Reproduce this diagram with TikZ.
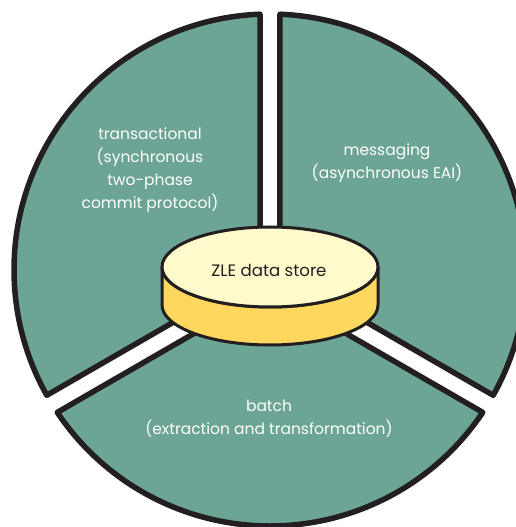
\documentclass[tikz,border=0pt]{standalone}
\usepackage{fontspec}
\setmainfont{Poppins}
\definecolor{teal}{HTML}{6CA496}
\definecolor{topy}{HTML}{FEFACC}
\definecolor{sidey}{HTML}{FED85E}
\definecolor{ink}{HTML}{231F20}
\begin{document}
\begin{tikzpicture}[x=1pt,y=1pt,
  sector/.style={fill=teal,draw=ink,line width=5.5pt,line join=round},
  cyl/.style={draw=ink,line width=3pt,line join=round},
  label/.style={text=white,align=center,font=\fontsize{15.5}{23}\selectfont},
  dark/.style={text=ink,align=center,font=\fontsize{16.6}{20}\selectfont}]
\useasboundingbox (0,0) rectangle (516,527);
\begin{scope}
\clip (0,0) rectangle (516,527);
% left sector
\draw[sector] (260,254.77) -- (260,512.8) arc[start angle=92.24,end angle=209.3,radius=256] -- cycle;
% right sector
\draw[sector] (280,254.77) -- (493.2,131.7) arc[start angle=-29.3,end angle=87.76,radius=256] -- cycle;
% bottom sector
\draw[sector] (270,237.45) -- (57.25,114.62) arc[start angle=213.79,end angle=326.21,radius=256] -- cycle;
\end{scope}
% cylinder
\draw[cyl,fill=sidey] (162,260) -- (162,222) arc[start angle=180,end angle=360,x radius=108,y radius=40] -- (378,260) arc[start angle=0,end angle=-180,x radius=108,y radius=40] -- cycle;
\draw[cyl,fill=topy] (270,260) ellipse[x radius=108,y radius=40];
\node[dark] (zle) at (269,257) {ZLE data store};
\node[label] (trans) at (150,357) {transactional\\(synchronous\\two-phase\\commit protocol)};
\node[label] (msg) at (387,364) {messaging\\(asynchronous EAI)};
\node[label] (batch) at (269,108) {batch\\(extraction and transformation)};
\end{tikzpicture}
\end{document}
